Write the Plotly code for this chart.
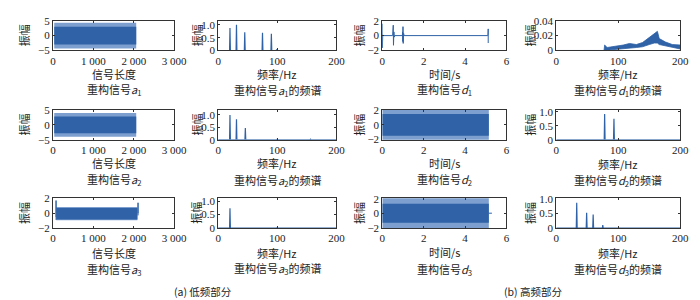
import plotly.graph_objects as go

W, H = 700, 300
BLUE = "#2f62a6"
LIGHT = "#7d9fcf"
SERIF = "Liberation Serif, Noto Sans CJK SC"
CJK = "Noto Sans CJK SC, Liberation Serif"

# ---------------- data ----------------
# low-frequency reconstructions a1..a3 : band outlines (x = sample index)
a1_x = [30, 2060]
a1_outer_hi = [4.3, 4.3]
a1_core_hi = [3.0, 3.0]
a1_core_lo = [-3.0, -3.0]
a1_outer_lo = [-4.3, -4.3]

a2_x = [30, 2060]
a2_outer_hi = [4.0, 4.0]
a2_core_hi = [2.8, 2.8]
a2_core_lo = [-2.8, -2.8]
a2_outer_lo = [-4.0, -4.0]

a3_x = [80, 2090]
a3_outer_hi = [0.85, 0.85]
a3_core_hi = [0.7, 0.7]
a3_core_lo = [-0.85, -0.85]
a3_outer_lo = [-0.95, -0.95]
a3_spike_x = [75, 75, 75, None, 2105, 2105, 2105]
a3_spike_y = [-0.9, 1.7, -0.5, None, -0.3, 1.4, 0.0]

# high-frequency reconstructions d1..d3 (x = time in s)
d1_t = [0.0, 0.004, 0.008, 0.012, 0.02, 0.04, 0.50, 0.51, 0.52, 0.53, 0.54, 0.56,
        0.58, 0.60, 0.97, 0.98, 0.99, 1.00, 1.01, 1.03, 1.05, 5.10, 5.11, 5.12, 5.12]
d1_y = [1.6, -1.65, 1.0, -0.5, 0.1, 0.0, 0.0, 0.6, -0.9, 1.4, -1.3, 0.5,
        -0.2, 0.0, 0.0, 0.5, -0.8, 1.2, -1.05, 0.3, 0.0, 0.0, 0.2, 0.9, -1.0]

d2_x = [0.0, 5.15]
d2_outer_hi = [2.2, 2.2]
d2_core_hi = [1.5, 1.5]
d2_core_lo = [-1.5, -1.5]
d2_outer_lo = [-2.2, -2.2]

d3_x = [0.0, 5.15]
d3_outer_hi = [2.1, 2.1]
d3_core_hi = [1.3, 1.3]
d3_core_lo = [-1.3, -1.3]
d3_outer_lo = [-2.1, -2.1]
d3_tail_x = [5.15, 5.3]
d3_tail_y = [0.0, 0.0]

# spectra: peak frequencies (Hz) and amplitudes
a1_f = [20, 31, 45, 75, 90, 99]
a1_amp = [0.88, 1.0, 0.71, 0.69, 0.65, 0.04]
a2_f = [20, 31, 46, 100, 156]
a2_amp = [1.0, 0.83, 0.47, 0.02, 0.02]
a3_f = [20, 86, 100]
a3_amp = [0.73, 0.01, 0.02]
d2_f = [78, 93]
d2_amp = [0.92, 0.75]
d3_f = [33, 49, 59.5, 75, 101]
d3_amp = [0.88, 0.53, 0.47, 0.1, 0.02]

# d1 spectrum: broadband envelope
d1_sf = [77, 78, 82, 92, 108, 118, 129, 139, 150, 158, 163, 166, 176, 187, 200]
d1_s_hi = [0.0, 0.0073, 0.004, 0.005, 0.0073, 0.0094, 0.008, 0.0106, 0.0175,
           0.022, 0.0257, 0.016, 0.0114, 0.008, 0.0073]
d1_s_lo = [0.0, 0.0, 0.0, 0.001, 0.002, 0.003, 0.004, 0.005, 0.008, 0.01,
           0.01, 0.008, 0.006, 0.004, 0.002]

# tick labels
len_ticks = [0, 1000, 2000, 3000]
len_ticktext = ["0", "1 000", "2 000", "3 000"]
freq_ticks = [0, 100, 200]
time_ticks = [0, 2, 4, 6]

# ---------------- layout geometry (pixels) ----------------
cols_px = [(43, 167), (212, 333), (380, 507), (558, 685)]
rows_px = [(7, 38), (100, 131), (192, 223)]

fig = go.Figure()


def ax_names(r, c):
    k = r * 4 + c + 1
    return ("x" if k == 1 else f"x{k}"), ("y" if k == 1 else f"y{k}"), k


def band(r, c, xs, ohi, chi, clo, olo):
    xa, ya, _ = ax_names(r, c)
    fig.add_trace(go.Scatter(x=xs + xs[::-1], y=ohi + olo[::-1], fill="toself",
                             fillcolor=LIGHT, line=dict(width=0), mode="lines",
                             xaxis=xa, yaxis=ya, hoverinfo="skip"))
    fig.add_trace(go.Scatter(x=xs + xs[::-1], y=chi + clo[::-1], fill="toself",
                             fillcolor=BLUE, line=dict(width=0), mode="lines",
                             xaxis=xa, yaxis=ya, hoverinfo="skip"))


def line(r, c, xs, ys, w=1):
    xa, ya, _ = ax_names(r, c)
    fig.add_trace(go.Scatter(x=xs, y=ys, mode="lines", line=dict(color=BLUE, width=w),
                             xaxis=xa, yaxis=ya, connectgaps=False))


def spectrum(r, c, fs, amps, fmax=200):
    xs, ys = [0], [0]
    for f, a in sorted(zip(fs, amps)):
        xs += [f - 0.7, f, f + 0.7]
        ys += [0, a, 0]
    xs.append(fmax)
    ys.append(0)
    line(r, c, xs, ys, 1.2)


band(0, 0, a1_x, a1_outer_hi, a1_core_hi, a1_core_lo, a1_outer_lo)
band(1, 0, a2_x, a2_outer_hi, a2_core_hi, a2_core_lo, a2_outer_lo)
band(2, 0, a3_x, a3_outer_hi, a3_core_hi, a3_core_lo, a3_outer_lo)
line(2, 0, a3_spike_x, a3_spike_y)
spectrum(0, 1, a1_f, a1_amp)
spectrum(1, 1, a2_f, a2_amp)
spectrum(2, 1, a3_f, a3_amp)
line(0, 2, d1_t, d1_y)
band(1, 2, d2_x, d2_outer_hi, d2_core_hi, d2_core_lo, d2_outer_lo)
band(2, 2, d3_x, d3_outer_hi, d3_core_hi, d3_core_lo, d3_outer_lo)
line(2, 2, d3_tail_x, d3_tail_y)
# d1 spectrum
xa, ya, _ = ax_names(0, 3)
fig.add_trace(go.Scatter(x=[0, 77], y=[0, 0], mode="lines", line=dict(color=BLUE, width=1),
                         xaxis=xa, yaxis=ya))
fig.add_trace(go.Scatter(x=d1_sf + d1_sf[::-1], y=d1_s_hi + d1_s_lo[::-1], fill="toself",
                         fillcolor=BLUE, line=dict(color=BLUE, width=0.8), mode="lines",
                         xaxis=xa, yaxis=ya))
spectrum(1, 3, d2_f, d2_amp)
spectrum(2, 3, d3_f, d3_amp)

# ---------------- axes ----------------
yspec = {
    (0, 0): dict(range=[-5, 5], tickvals=[-5, 0, 5], ticktext=["−5", "0", "5"]),
    (1, 0): dict(range=[-5, 5], tickvals=[-5, 0, 5], ticktext=["−5", "0", "5"]),
    (2, 0): dict(range=[-2, 2], tickvals=[-2, 0, 2], ticktext=["−2", "0", "2"]),
    (0, 1): dict(range=[0, 1.16], tickvals=[0, 0.5, 1], ticktext=["0", "0.5", "1.0"]),
    (1, 1): dict(range=[0, 1.2], tickvals=[0, 0.5, 1], ticktext=["0", "0.5", "1.0"]),
    (2, 1): dict(range=[0, 1.1], tickvals=[0, 0.5, 1], ticktext=["0", "0.5", "1.0"]),
    (0, 2): dict(range=[-2, 2], tickvals=[-2, 0, 2], ticktext=["−2", "0", "2"]),
    (1, 2): dict(range=[-2.05, 2.05], tickvals=[-2, 0, 2], ticktext=["−2", "0", "2"]),
    (2, 2): dict(range=[-2.05, 2.05], tickvals=[-2, 0, 2], ticktext=["−2", "0", "2"]),
    (0, 3): dict(range=[0, 0.04], tickvals=[0, 0.02, 0.04], ticktext=["0", "0.02", "0.04"]),
    (1, 3): dict(range=[0, 1.06], tickvals=[0, 0.5, 1], ticktext=["0", "0.5", "1.0"]),
    (2, 3): dict(range=[0, 1.03], tickvals=[0, 0.5, 1], ticktext=["0", "0.5", "1.0"]),
}
xspec = {
    0: dict(range=[0, 3000], tickvals=len_ticks, ticktext=len_ticktext),
    1: dict(range=[0, 200], tickvals=freq_ticks, ticktext=[str(v) for v in freq_ticks]),
    2: dict(range=[0, 6], tickvals=time_ticks, ticktext=[str(v) for v in time_ticks]),
    3: dict(range=[0, 200], tickvals=freq_ticks, ticktext=[str(v) for v in freq_ticks]),
}

common = dict(showline=True, linecolor="#333", linewidth=1, mirror="ticks", ticks="inside",
              ticklen=2, tickcolor="#333", showgrid=False, zeroline=False, fixedrange=True,
              tickfont=dict(family=SERIF, size=11, color="#222"))

layout = dict(width=W, height=H, margin=dict(l=0, r=0, t=0, b=0), showlegend=False,
              plot_bgcolor="white", paper_bgcolor="white")
for r in range(3):
    for c in range(4):
        xa, ya, k = ax_names(r, c)
        x0, x1 = cols_px[c]
        y0, y1 = rows_px[r]
        xkey = "xaxis" if k == 1 else f"xaxis{k}"
        ykey = "yaxis" if k == 1 else f"yaxis{k}"
        layout[xkey] = dict(common, domain=[x0 / W, x1 / W], anchor=ya, **xspec[c])
        layout[ykey] = dict(common, domain=[1 - y1 / H, 1 - y0 / H], anchor=xa, **yspec[(r, c)])

fig.update_layout(**layout)

# ---------------- text ----------------
xtitles = ["信号长度", "频率/Hz", "时间/s", "频率/Hz"]
sub_names = [["<i>a</i><sub>1</sub>", "<i>a</i><sub>2</sub>", "<i>a</i><sub>3</sub>"],
             ["<i>d</i><sub>1</sub>", "<i>d</i><sub>2</sub>", "<i>d</i><sub>3</sub>"]]
xt_y = [[62, 63, 62, 63], [155, 155, 155, 156], [249, 249, 248, 249]]
st_y = [[79, 80, 79, 80], [172, 173, 172, 173], [266, 265, 266, 266]]
yl_x = [13, 190, 356, 531]


def ann(x, y, text, size=12, angle=0, family=CJK, yanchor="middle"):
    fig.add_annotation(x=x / W, y=1 - y / H, xref="paper", yref="paper", text=text,
                       showarrow=False, textangle=angle, xanchor="center", yanchor=yanchor,
                       font=dict(family=family, size=size, color="#222"))


for r in range(3):
    for c in range(4):
        xc = (cols_px[c][0] + cols_px[c][1]) / 2
        ann(xc, xt_y[r][c], xtitles[c], size=11)
        name = sub_names[0][r] if c < 2 else sub_names[1][r]
        suffix = "的频谱" if c % 2 == 1 else ""
        ann(xc, st_y[r][c], "重构信号" + name + suffix, size=11)
        ann(yl_x[c], (rows_px[r][0] + rows_px[r][1]) / 2, "振幅", size=11, angle=-90)

ann(196, 289, "(a) 低频部分", size=10.5)
ann(534, 289, "(b) 高频部分", size=10.5)

fig.write_html("out.html")
